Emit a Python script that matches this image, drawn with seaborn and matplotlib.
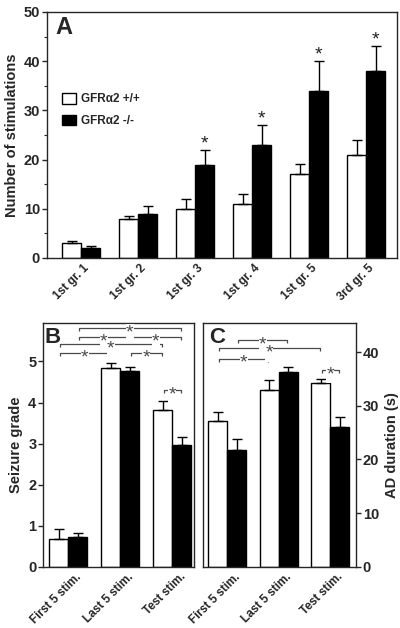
import numpy as np
import pandas as pd
import matplotlib
matplotlib.use('Agg')
import matplotlib.pyplot as plt
import matplotlib.transforms as mtransforms
from matplotlib.ticker import MultipleLocator
import seaborn as sns

# ---- data ----
genotypes = ['GFRα2 +/+', 'GFRα2 -/-']

# panel A: number of stimulations to reach each grade
a_groups = ['1st gr. 1', '1st gr. 2', '1st gr. 3', '1st gr. 4', '1st gr. 5', '3rd gr. 5']
a_wt = [3, 8, 10, 11, 17, 21]
a_wt_top = [3.5, 8.5, 12, 13, 19.2, 24]
a_ko = [2, 9, 19, 23, 34, 38]
a_ko_top = [2.5, 10.5, 22, 27, 40, 43]
a_sig = [False, False, True, True, True, True]

# panels B and C share the stimulation groups
bc_groups = ['First 5 stim.', 'Last 5 stim.', 'Test stim.']

# panel B: seizure grade
b_wt = [0.67, 4.83, 3.81]
b_wt_top = [0.91, 4.96, 4.04]
b_ko = [0.73, 4.76, 2.97]
b_ko_top = [0.83, 4.86, 3.16]
# significance brackets: (genotype idx, group idx) -> (genotype idx, group idx), height
b_brackets = [((1, 0), (1, 2), 5.81),
              ((1, 0), (1, 1), 5.60),
              ((1, 1), (1, 2), 5.60),
              ((0, 0), (0, 2), 5.43),
              ((0, 0), (0, 1), 5.20),
              ((1, 1), (0, 2), 5.20),
              ((0, 2), (1, 2), 4.30)]

# panel C: AD duration (s)
c_wt = [27.2, 33.0, 34.2]
c_wt_top = [28.8, 34.9, 35.0]
c_ko = [21.8, 36.3, 26.0]
c_ko_top = [23.9, 37.3, 28.0]
c_brackets = [((1, 0), (1, 1), 42.2),
              ((0, 0), (0, 2), 40.7),
              ((0, 0), (0, 1), 38.8),
              ((0, 2), (1, 2), 36.7)]

sns.set_style('ticks')
plt.rcParams['font.family'] = ['Liberation Sans', 'DejaVu Sans']
plt.rcParams['font.weight'] = 'bold'
plt.rcParams['axes.labelweight'] = 'bold'
plt.rcParams['axes.linewidth'] = 1.0
plt.rcParams['xtick.direction'] = 'out'
plt.rcParams['ytick.direction'] = 'out'

palette = {genotypes[0]: 'white', genotypes[1]: 'black'}
BRACKET_COLOR = '#4a4a4a'


def make_frame(groups, wt, ko):
    return pd.DataFrame({
        'group': list(groups) * 2,
        'genotype': [genotypes[0]] * len(groups) + [genotypes[1]] * len(groups),
        'value': list(wt) + list(ko),
    })


def bar_x(ax, hue, group):
    patch = ax.containers[hue][group]
    return patch.get_x() + patch.get_width() / 2


def draw_bars(ax, groups, wt, ko, wt_top, ko_top, width, legend=False):
    df = make_frame(groups, wt, ko)
    sns.barplot(data=df, x='group', y='value', hue='genotype', order=groups,
                hue_order=genotypes, palette=palette, edgecolor='black',
                linewidth=1.0, width=width, errorbar=None, saturation=1,
                legend=legend, ax=ax)
    # one-sided (upper) SEM bars
    for hue, (vals, tops) in enumerate([(wt, wt_top), (ko, ko_top)]):
        xs = [bar_x(ax, hue, g) for g in range(len(groups))]
        vals = np.asarray(vals, dtype=float)
        tops = np.asarray(tops, dtype=float)
        ax.errorbar(xs, vals, yerr=[np.zeros_like(vals), tops - vals], fmt='none',
                    ecolor='black', elinewidth=1.0, capsize=3.6, capthick=1.0, zorder=1)
    ax.set_xlabel('')


def draw_brackets(ax, brackets, ymax, fig):
    tick = 0.012 * ymax
    shift = mtransforms.ScaledTranslation(0, -3.4 / 72, fig.dpi_scale_trans)
    for (h0, g0), (h1, g1), y in brackets:
        x0 = bar_x(ax, h0, g0) + 0.02
        x1 = bar_x(ax, h1, g1) - 0.02
        ax.plot([x0, x0, x1, x1], [y - tick, y, y, y - tick], color=BRACKET_COLOR,
                lw=0.9, clip_on=False, solid_capstyle='butt')
        ax.text((x0 + x1) / 2, y, '*', ha='center', va='center', fontsize=14,
                fontweight='normal', color=BRACKET_COLOR,
                transform=ax.transData + shift,
                bbox=dict(facecolor='white', edgecolor='none', pad=0.1))


def style_xticks(ax, labels, fig, dx=0.0):
    ax.set_xticks(range(len(labels)))
    ax.set_xticklabels(labels, rotation=45, ha='right', rotation_mode='anchor',
                       fontsize=8.5, fontweight='bold')
    ax.tick_params(axis='x', length=0, pad=3)
    if dx:
        off = mtransforms.ScaledTranslation(dx / 72, 0, fig.dpi_scale_trans)
        for lab in ax.get_xticklabels():
            lab.set_transform(lab.get_transform() + off)


fig = plt.figure(figsize=(4.0, 6.28), dpi=100)

# ---------------- panel A ----------------
ax_a = fig.add_axes([0.1175, 0.5892, 0.875, 0.3917])
draw_bars(ax_a, a_groups, a_wt, a_ko, a_wt_top, a_ko_top, width=0.67, legend=True)
ax_a.set_xlim(-0.6, 5.54)
ax_a.set_ylim(0, 50)
ax_a.yaxis.set_major_locator(MultipleLocator(10))
ax_a.yaxis.set_minor_locator(MultipleLocator(5))
ax_a.tick_params(axis='y', which='major', length=3.5, width=1.0, labelsize=10.5, pad=1.5)
ax_a.tick_params(axis='y', which='minor', length=2, width=0.8)
ax_a.set_ylabel('Number of stimulations', fontsize=10.5, labelpad=3)
style_xticks(ax_a, a_groups, fig, dx=1.5)
for g, sig in enumerate(a_sig):
    if sig:
        ax_a.text(bar_x(ax_a, 1, g), a_ko_top[g] + 0.3, '*', ha='center', va='baseline',
                  fontsize=14, fontweight='normal', color='#222222')
ax_a.legend(loc='upper left', bbox_to_anchor=(0.03, 0.69), frameon=False,
            prop={'size': 8.5, 'weight': 'bold'}, handlelength=1.15, handleheight=1.0,
            handletextpad=0.45, labelspacing=0.8, borderaxespad=0)
ax_a.text(0.025, 0.985, 'A', transform=ax_a.transAxes, ha='left', va='top',
          fontsize=17, fontweight='bold')

# ---------------- panel B ----------------
ax_b = fig.add_axes([0.1083, 0.0976, 0.3775, 0.3876])
draw_bars(ax_b, bc_groups, b_wt, b_ko, b_wt_top, b_ko_top, width=0.73)
ax_b.set_xlim(-0.48, 2.42)
ax_b.set_ylim(0, 5.93)
ax_b.yaxis.set_major_locator(MultipleLocator(1))
ax_b.tick_params(axis='y', length=3.5, width=1.0, labelsize=10.5, pad=1.5)
ax_b.set_ylabel('Seizure grade', fontsize=10.5, labelpad=4)
style_xticks(ax_b, bc_groups, fig, dx=5)
draw_brackets(ax_b, b_brackets, 5.93, fig)
ax_b.text(0.01, 0.985, 'B', transform=ax_b.transAxes, ha='left', va='top',
          fontsize=16, fontweight='bold')

# ---------------- panel C ----------------
ax_c = fig.add_axes([0.5083, 0.0976, 0.381, 0.3876])
draw_bars(ax_c, bc_groups, c_wt, c_ko, c_wt_top, c_ko_top, width=0.74)
ax_c.set_xlim(-0.47, 2.5)
ax_c.set_ylim(0, 45.4)
ax_c.yaxis.set_major_locator(MultipleLocator(10))
ax_c.yaxis.tick_right()
ax_c.yaxis.set_label_position('right')
ax_c.tick_params(axis='y', length=3.5, width=1.0, labelsize=10.5, pad=1.5)
ax_c.set_ylabel('AD duration (s)', fontsize=10.5, labelpad=4)
style_xticks(ax_c, bc_groups, fig, dx=5)
draw_brackets(ax_c, c_brackets, 45.4, fig)
ax_c.text(0.035, 0.985, 'C', transform=ax_c.transAxes, ha='left', va='top',
          fontsize=16, fontweight='bold')

fig.savefig('out.png', dpi=100)
